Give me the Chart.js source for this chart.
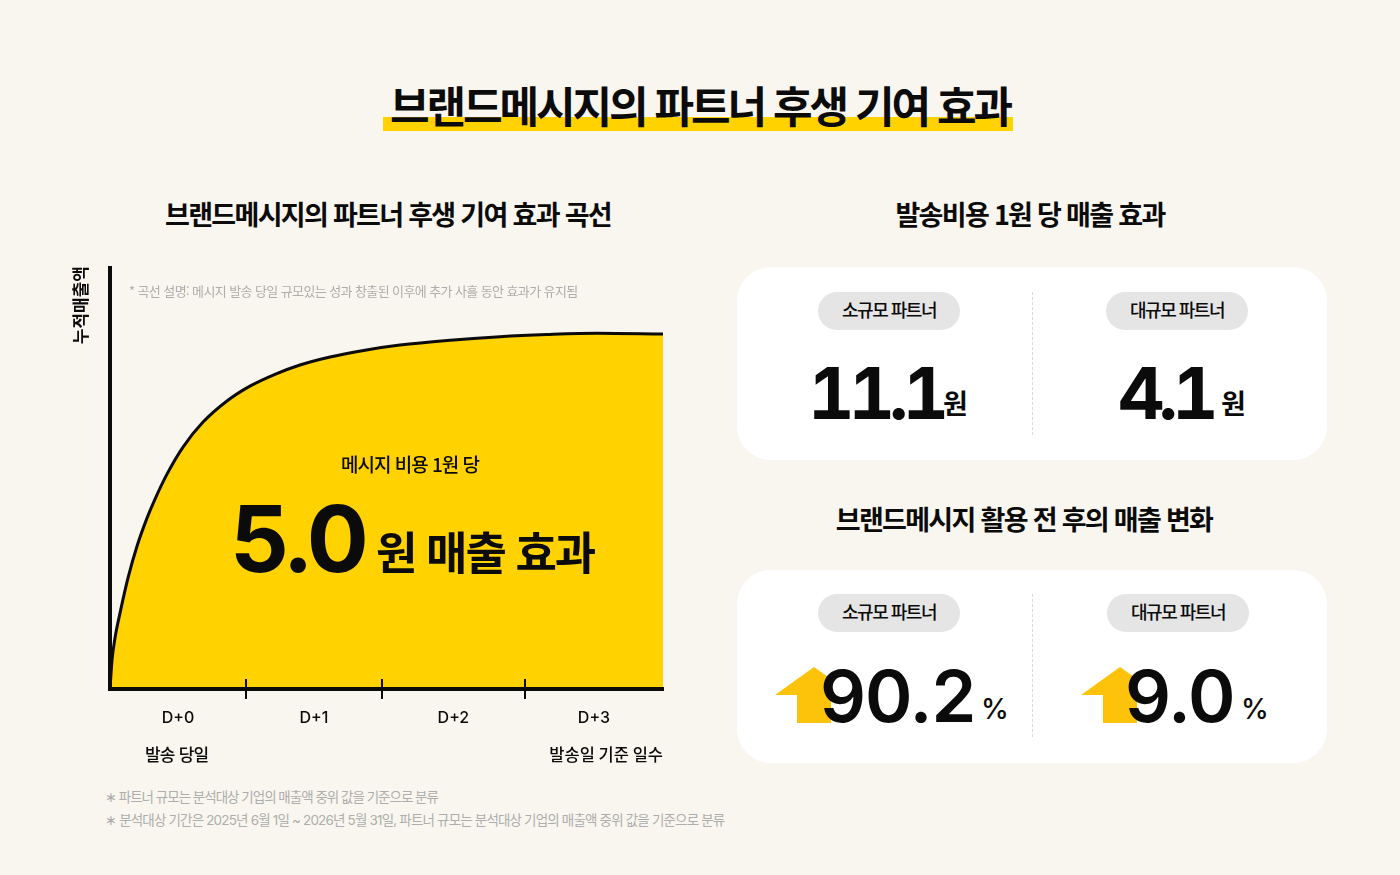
<!DOCTYPE html>
<html lang="ko">
<head>
<meta charset="utf-8">
<script src="https://cdn.jsdelivr.net/npm/chart.js@4/dist/chart.umd.min.js"></script>
<style>
	html, body { margin: 0; padding: 0; }
	body { width: 1400px; height: 875px; background: #f9f6ef; position: relative; overflow: hidden;
		font-family: "Noto Sans CJK KR", sans-serif; color: #0b0b0b; }
	.t { position: absolute; white-space: nowrap; line-height: 1; }
	.c { transform: translateX(-50%); }
	.head { font-size: 27px; font-weight: 700; letter-spacing: -1.7px; }
	.card { position: absolute; left: 737px; width: 590px; height: 193px; background: #fff; border-radius: 34px; }
	.pill { position: absolute; width: 142px; height: 38px; line-height: 34px; border-radius: 19px; background: #e5e5e5;
		text-align: center; font-size: 18px; font-weight: 500; letter-spacing: -1.5px; }
	.divider { position: absolute; left: 1032px; width: 0; height: 143px; border-left: 1px dashed #d9d9d9; }
	.num { font-family: Inter, sans-serif; }
	.big { font-size: 72px; font-weight: 700; letter-spacing: -6px; font-feature-settings: "tnum"; }
	.note { color: #adadad; font-size: 13.5px; letter-spacing: -1px; }
	.arrow { position: absolute; width: 56px; height: 56px; background: #fdc30b;
		clip-path: polygon(0 28px, 39px 0, 56px 12px, 56px 56px, 22px 56px, 22px 28px); }
	#curveChart { position: absolute; left: 60px; top: 266px; }
</style>
</head>
<body>
	<div style="position:absolute;left:383px;top:117px;width:630px;height:14px;background:#ffd200"></div>
	<div class="t c" style="left:700px;top:83px;font-size:43px;font-weight:700;letter-spacing:-3.05px">브랜드메시지의 파트너 후생 기여 효과</div>

	<div class="t c head" style="left:388px;top:200px">브랜드메시지의 파트너 후생 기여 효과 곡선</div>
	<div class="t c head" style="left:1030px;top:200px">발송비용 1원 당 매출 효과</div>
	<div class="t c head" style="left:1024px;top:505px">브랜드메시지 활용 전 후의 매출 변화</div>

	<div style="position:absolute;left:0;top:0;width:1400px;height:875px">
		<canvas id="curveChart" width="610" height="499"></canvas>
	</div>

	<div class="t note" style="left:129px;top:284px;font-size:13px;letter-spacing:-.6px">* 곡선 설명: 메시지 발송 당일 규모있는 성과 창출된 이후에 추가 사흘 동안 효과가 유지됨</div>
	<div class="t c" style="left:410px;top:454px;font-size:19px;font-weight:500;letter-spacing:-1px">메시지 비용 1원 당</div>
	<div class="t num" id="mainValue" style="left:230px;top:493px;font-size:92px;font-weight:700;letter-spacing:-4px"></div>
	<div class="t" style="left:376px;top:528px;font-size:45px;font-weight:700;letter-spacing:-2px">원 매출 효과</div>

	<div class="t" style="left:145px;top:745px;font-size:17px;font-weight:500;letter-spacing:-.8px">발송 당일</div>

	<div class="t note" style="left:105px;top:790px">∗ 파트너 규모는 분석대상 기업의 매출액 중위 값을 기준으로 분류</div>
	<div class="t note" style="left:105px;top:814px;font-family:Inter,'Noto Sans CJK KR',sans-serif;letter-spacing:-.83px">∗ 분석대상 기간은 2025년 6월 1일 ~ 2026년 5월 31일, 파트너 규모는 분석대상 기업의 매출액 중위 값을 기준으로 분류</div>

	<div class="card" style="top:267px"></div>
	<div class="divider" style="top:292px"></div>
	<div class="pill" id="pill0" style="left:818px;top:292px"></div>
	<div class="pill" id="pill1" style="left:1106px;top:292px"></div>
	<div class="t num big" id="cost0" style="left:808px;top:357px"></div>
	<div class="t" style="left:943px;top:389px;font-size:27px;font-weight:700">원</div>
	<div class="t num big" id="cost1" style="left:1118px;top:357px"></div>
	<div class="t" style="left:1221px;top:389px;font-size:27px;font-weight:700">원</div>

	<div class="card" style="top:570px"></div>
	<div class="divider" style="top:594px"></div>
	<div class="pill" id="pill2" style="left:818px;top:594px"></div>
	<div class="pill" id="pill3" style="left:1107px;top:594px"></div>
	<div class="arrow" style="left:775px;top:667px"></div>
	<div class="arrow" style="left:1081px;top:667px"></div>
	<div class="t num" id="lift0" style="left:820px;top:660px;font-size:72px;font-weight:600;letter-spacing:-1px"></div>
	<div class="t num" style="left:981px;top:695px;font-size:28px;font-weight:500">%</div>
	<div class="t num" id="lift1" style="left:1125px;top:660px;font-size:72px;font-weight:600;letter-spacing:-1px"></div>
	<div class="t num" style="left:1241px;top:695px;font-size:28px;font-weight:500">%</div>

	<script>
		// curve: days since send, cumulative sales (0-100, axis has no ticks)
		const curveDays = [0, 0.015, 0.037, 0.074, 0.132, 0.199, 0.272, 0.331, 0.419, 0.537, 0.684, 0.86, 1.029, 1.213, 1.397, 1.618, 1.875, 2.132, 2.478, 2.868, 3.213, 3.581, 4.066];
		const curveValues = [0, 6.9, 12.1, 18, 26.2, 33.8, 40.4, 44.9, 50.8, 57.2, 63.1, 68.1, 71.6, 74.4, 76.6, 78.5, 80.1, 81.3, 82.4, 83.3, 83.8, 84.1, 83.9];
		const dayLabels = ['D+0', 'D+1', 'D+2', 'D+3'];
		const dayEdges = [0, 1, 2, 3.05, 4.066];

		const partnerLabels = ['소규모 파트너', '대규모 파트너', '소규모 파트너', '대규모 파트너'];
		const costEffect = ['11.1', '4.1'];
		const salesLift = ['90.2', '9.0'];
		const mainEffect = '5.0';

		partnerLabels.forEach(function(p, i){ document.getElementById('pill' + i).textContent = p; });
		costEffect.forEach(function(v, i){ document.getElementById('cost' + i).textContent = v; });
		salesLift.forEach(function(v, i){ document.getElementById('lift' + i).textContent = v; });
		document.getElementById('mainValue').textContent = mainEffect;

		// small ticks on the x axis, they cross the axis line so the built in ones dont work
		const edgeTicks = {
			id: 'edgeTicks',
			afterDraw(chart){
				const ctx = chart.ctx, x = chart.scales.x, y0 = x.top;
				ctx.save();
				ctx.strokeStyle = '#0b0b0b';
				ctx.lineWidth = 2;
				dayEdges.slice(1, -1).forEach(function(d){
					const px = Math.round(x.getPixelForValue(d));
					ctx.beginPath();
					ctx.moveTo(px, y0 - 10);
					ctx.lineTo(px, y0 + 10);
					ctx.stroke();
				});
				ctx.restore();
			}
		};

		new Chart(document.getElementById('curveChart'), {
			type: 'line',
			data: {
				datasets: [{
					data: curveDays.map(function(d, i){ return { x: d, y: curveValues[i] }; }),
					borderColor: '#0b0b0b',
					borderWidth: 3,
					backgroundColor: '#ffd200',
					fill: 'origin',
					pointRadius: 0,
					cubicInterpolationMode: 'monotone'
				}]
			},
			options: {
				responsive: false,
				animation: false,
				layout: { padding: { right: 7 } },
				plugins: { legend: { display: false }, tooltip: { enabled: false } },
				scales: {
					x: {
						type: 'linear',
						min: 0,
						max: dayEdges[dayEdges.length - 1],
						afterFit(s){ s.height = 76; },
						afterBuildTicks(s){
							s.ticks = dayLabels.map(function(l, i){ return { value: (dayEdges[i] + dayEdges[i + 1]) / 2 }; });
						},
						grid: { display: false, drawTicks: false },
						border: { display: true, color: '#0b0b0b', width: 4, z: 2 },
						ticks: {
							autoSkip: false,
							maxRotation: 0,
							padding: 20,
							color: '#0b0b0b',
							font: { family: 'Inter, "Noto Sans CJK KR"', size: 16, weight: '500' },
							callback(v, i){ return dayLabels[i]; }
						},
						title: {
							display: true,
							text: '발송일 기준 일수',
							align: 'end',
							color: '#0b0b0b',
							font: { family: '"Noto Sans CJK KR"', size: 16.5, weight: '500' },
							padding: { top: 0, bottom: 0 }
						}
					},
					y: {
						min: 0,
						max: 100,
						afterFit(s){ s.width = 50; },
						grid: { display: false, drawTicks: false },
						border: { display: true, color: '#0b0b0b', width: 4, z: 2 },
						ticks: { display: false },
						title: {
							display: true,
							text: '누적매출액',
							align: 'end',
							color: '#0b0b0b',
							font: { family: '"Noto Sans CJK KR"', size: 17, weight: '700' },
							padding: { top: 10, bottom: 0 }
						}
					}
				}
			},
			plugins: [edgeTicks]
		});
	</script>
</body>
</html>
